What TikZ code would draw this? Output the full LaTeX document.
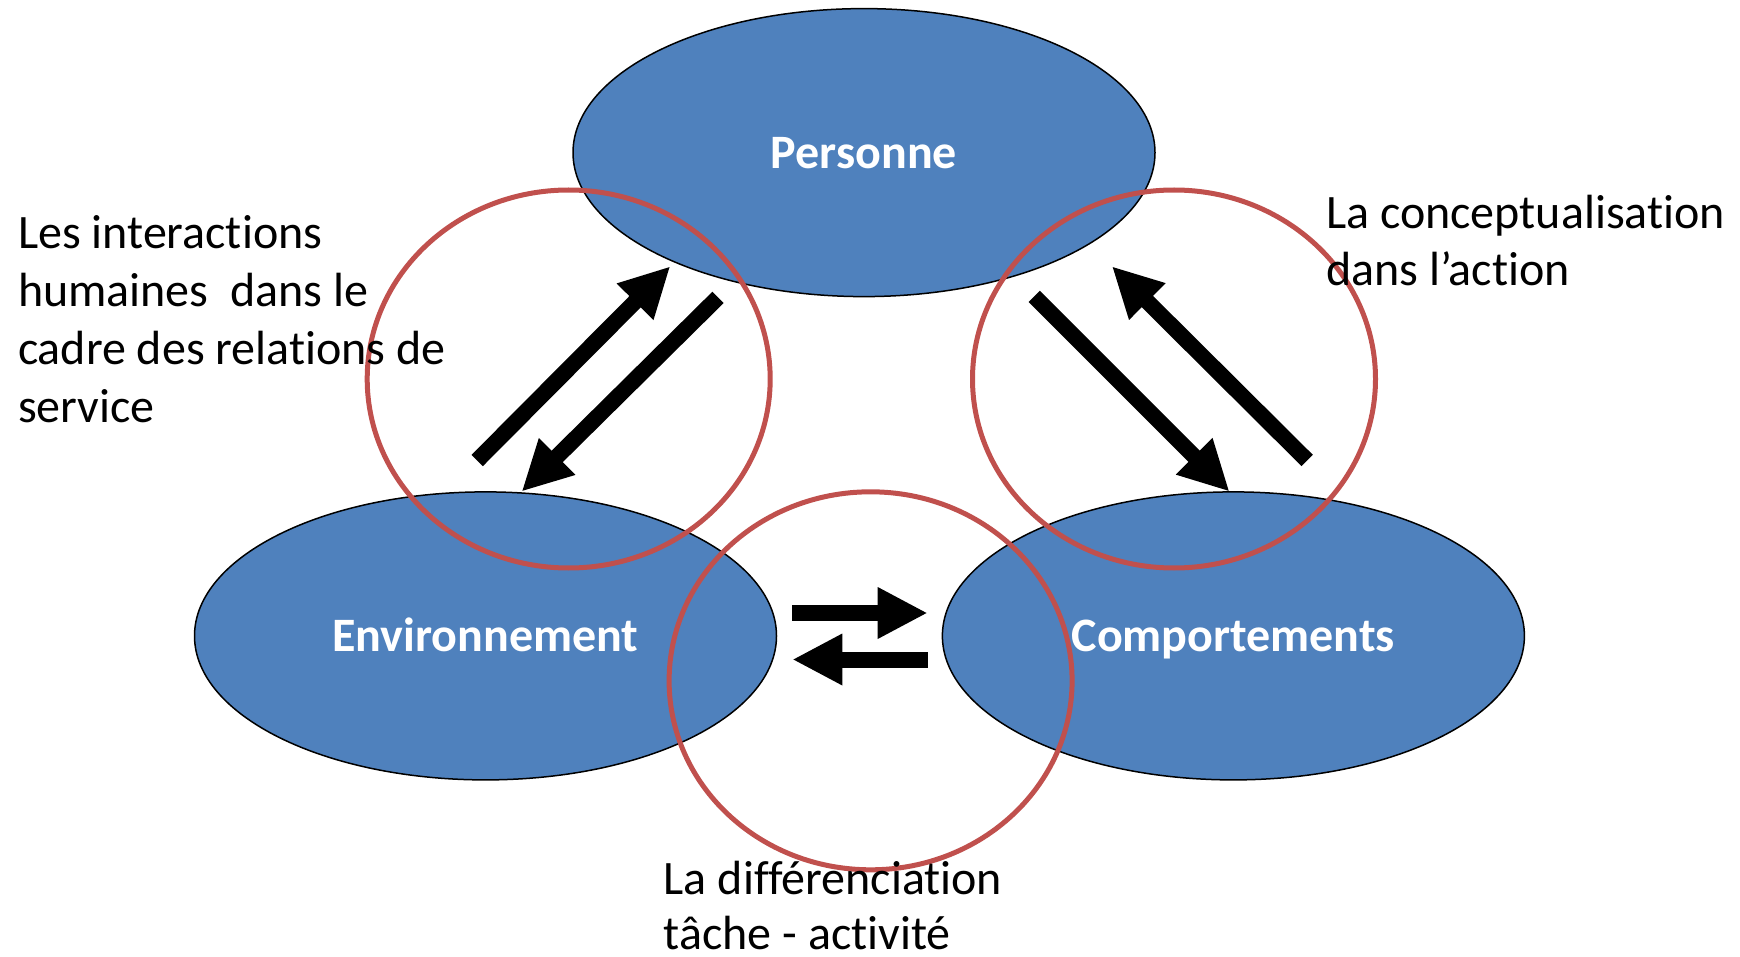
\documentclass[tikz,border=0pt]{standalone}
\usepackage{fontspec}
\setmainfont{Carlito}[Ligatures=NoCommon]
\usetikzlibrary{shapes.geometric,arrows.meta}
\definecolor{fillblue}{HTML}{4F81BD}
\definecolor{ringred}{HTML}{C0504D}
\begin{document}
\begin{tikzpicture}[x=1pt,y=-1pt,
 bigell/.style={ellipse, draw=black, line width=1.5pt, fill=fillblue, minimum width=582pt, minimum height=288pt, inner sep=0pt, text height=32pt, text depth=0pt, text=white, font=\fontsize{48}{58}\selectfont\bfseries},
 ring/.style={ellipse, draw=ringred, line width=5pt, minimum width=403pt, minimum height=378pt, inner sep=0pt},
 fat/.style={line width=16pt, -{Triangle[length=50pt,width=48pt]}},
 lbl/.style={anchor=base west, inner sep=0pt, text depth=0pt, font=\fontsize{48}{58}\selectfont}]
\useasboundingbox (0,0) rectangle (1740,957);
% ellipses
\node[bigell] (pers) at (864,152.6) {Personne};
\node[bigell] (env) at (485.5,635.9) {Environnement};
\node[bigell] (comp) at (1233.4,635.9) {Comportements};
% red rings
\node[ring] (rleft) at (568.7,379) {};
\node[ring] (rright) at (1174,379) {};
\node[ring] (rbot) at (870.6,680.8) {};
% arrow end points
\coordinate (a1s) at (477.2,460.5);
\coordinate (a1e) at (670.3,266.3);
\coordinate (a2s) at (718,297.4);
\coordinate (a2e) at (521.6,491.6);
\coordinate (a3s) at (1034.2,296.3);
\coordinate (a3e) at (1229.5,491.6);
\coordinate (a4s) at (1307.2,460.5);
\coordinate (a4e) at (1111.9,266.3);
\coordinate (a5s) at (792.3,613);
\coordinate (a5e) at (927.7,613);
\coordinate (a6s) at (927.7,659.5);
\coordinate (a6e) at (792.3,659.5);
\draw[fat] (a1s) -- (a1e);
\draw[fat] (a2s) -- (a2e);
\draw[fat] (a3s) -- (a3e);
\draw[fat] (a4s) -- (a4e);
\draw[fat] (a5s) -- (a5e);
\draw[fat] (a6s) -- (a6e);
% labels
\node[lbl] (l1a) at (17.8,249) {Les interactions};
\node[lbl] (l1b) at (17.8,307) {humaines\ \ dans le};
\node[lbl] (l1c) at (17.8,364.5) {cadre des relations de};
\node[lbl] (l1d) at (17.8,422) {service};
\node[lbl] (l2a) at (1326,229) {La conceptualisation};
\node[lbl] (l2b) at (1326,286) {dans l’action};
\node[lbl] (l3a) at (663.6,894) {La différenciation};
\node[lbl] (l3b) at (663.6,949) {tâche - activité};
\end{tikzpicture}
\end{document}
